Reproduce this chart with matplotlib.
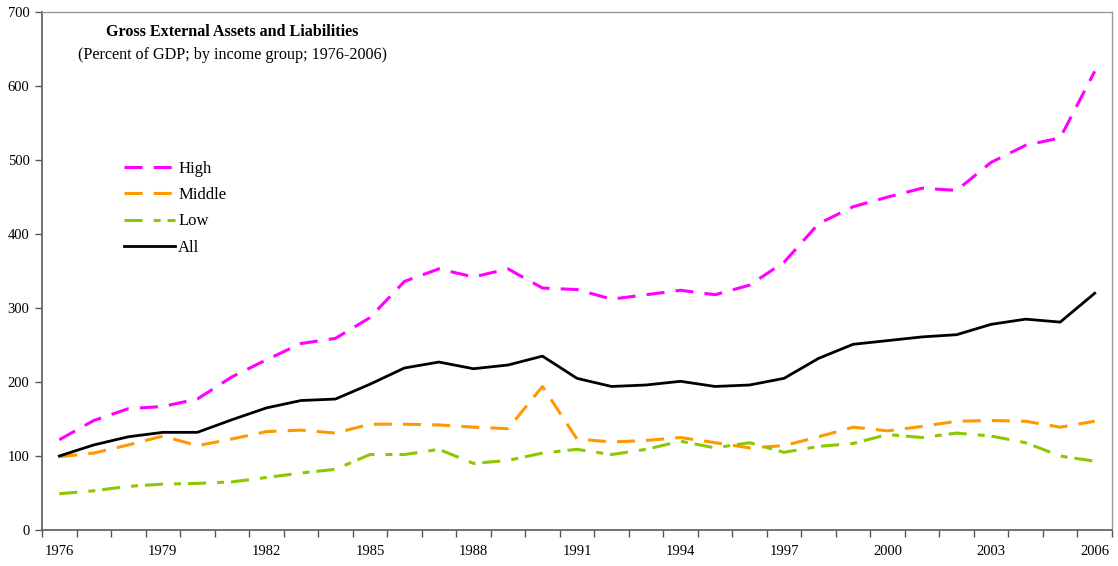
import matplotlib
matplotlib.use("Agg")
import matplotlib.pyplot as plt

plt.rcParams['font.family'] = ['Liberation Serif', 'DejaVu Serif']
plt.rcParams['lines.scale_dashes'] = False

years = list(range(1976, 2007))
high = [122, 148, 164, 167, 177, 207, 230, 252, 259, 287, 336, 353, 342, 353, 327,
        325, 312, 318, 324, 318, 331, 362, 414, 437, 450, 462, 459, 497, 520, 530, 620]
middle = [99, 104, 115, 127, 114, 123, 133, 135, 131, 143, 143, 142, 139, 137, 194,
          123, 119, 121, 125, 118, 111, 114, 126, 139, 134, 140, 147, 148, 147, 139, 147]
low = [49, 53, 59, 62, 63, 65, 71, 77, 82, 102, 102, 109, 90, 94, 104,
       109, 102, 109, 120, 111, 118, 105, 113, 117, 129, 125, 131, 127, 118, 100, 93]
all_ = [100, 115, 126, 132, 132, 149, 165, 175, 177, 197, 219, 227, 218, 223, 235,
        205, 194, 196, 201, 194, 196, 205, 232, 251, 256, 261, 264, 278, 285, 281, 320]

fig = plt.figure(figsize=(11.18, 5.66), dpi=100)
ax = fig.add_axes([0.0376, 0.0636, 0.957, 0.915])

x = list(range(len(years)))
ax.plot(x, high, color='#FF00FF', lw=2.2, dashes=(13, 8), label='High')
ax.plot(x, middle, color='#FF9900', lw=2.2, dashes=(13, 8), label='Middle')
ax.plot(x, low, color='#8CC800', lw=2.2, dashes=(13, 8, 5, 5), label='Low')
ax.plot(x, all_, color='black', lw=2.0, label='All')

ax.set_xlim(-0.5, len(years) - 0.5)
ax.set_ylim(0, 700)
ax.set_yticks(range(0, 701, 100))

# tick marks between categories, labels every third year
ax.set_xticks([i - 0.5 for i in range(len(years) + 1)])
ax.set_xticklabels([])
ax.set_xticks(x[::3], minor=True)
ax.set_xticklabels([str(y) for y in years[::3]], minor=True)
ax.tick_params(axis='x', which='major', direction='out', length=5, width=1, color='#555555')
ax.tick_params(axis='x', which='minor', length=0, pad=11, labelsize=10.5)
ax.tick_params(axis='y', direction='out', length=5, width=1, color='#555555', labelsize=10.5, pad=4)

for side in ['left', 'bottom']:
    ax.spines[side].set_color('#666666')
    ax.spines[side].set_linewidth(1.3)
for side in ['top', 'right']:
    ax.spines[side].set_color('#999999')
    ax.spines[side].set_linewidth(1.0)

ax.text(0.178, 0.961, 'Gross External Assets and Liabilities', transform=ax.transAxes,
        ha='center', va='center', fontsize=11.6, fontweight='bold')
ax.text(0.178, 0.918, '(Percent of GDP; by income group; 1976-2006)', transform=ax.transAxes,
        ha='center', va='center', fontsize=11.6)

ax.legend(loc='upper left', bbox_to_anchor=(0.0625, 0.742), frameon=False, fontsize=12,
          handlelength=3.05, handletextpad=0.2, labelspacing=0.62)

fig.savefig('out.png', dpi=100)
